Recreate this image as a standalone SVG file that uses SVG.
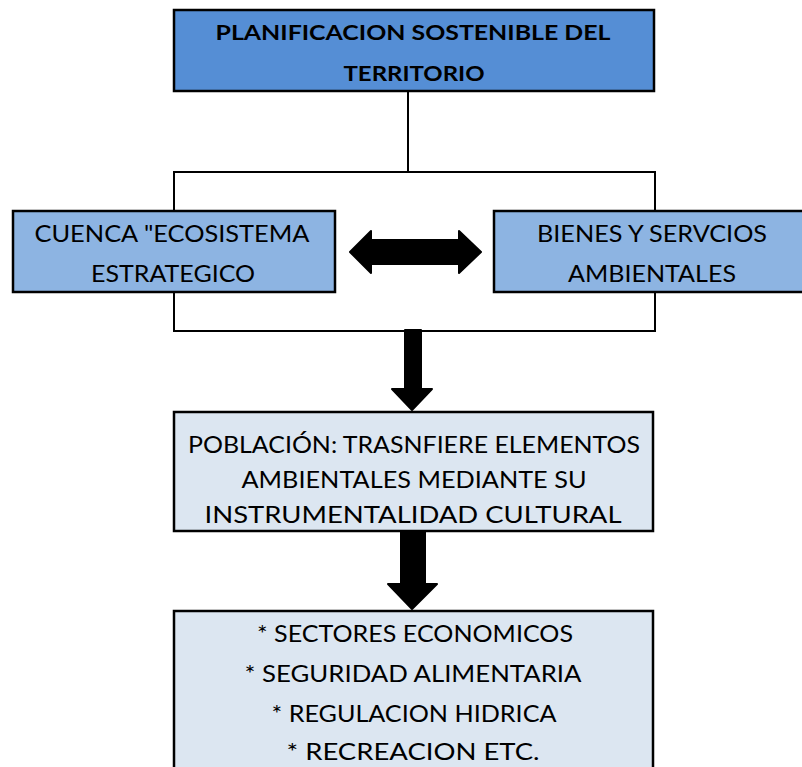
<svg xmlns="http://www.w3.org/2000/svg" width="802" height="767" viewBox="0 0 802 767">
<style>
.box{stroke:#000;stroke-width:2.5}
.top{fill:#558ED5}
.mid{fill:#8DB4E2}
.low{fill:#DCE6F1}
text{font-family:Lato,"Open Sans","Liberation Sans",sans-serif;fill:#000;text-anchor:middle}
.b{font-weight:bold;font-size:20px}
.n{font-size:23px}
.line{fill:none;stroke:#000;stroke-width:2}
.arr{fill:#000;stroke:#000;stroke-width:2;stroke-linejoin:round}
</style>
<rect width="802" height="767" fill="#fff"/>
<g id="connectors">
<line class="line" x1="408" y1="91" x2="408" y2="172"/>
<rect class="line" x="174" y="172" width="481" height="159"/>
<path class="arr" d="M350,252 L371,231 L371,240 L459,240 L459,231 L481,252 L459,273 L459,264 L371,264 L371,273 Z"/>
<path class="arr" d="M405,330 L421,330 L421,389 L432,389 L412,410 L392,389 L405,389 Z"/>
<path class="arr" d="M401,532 L425,532 L425,584 L437,584 L412,609 L388,584 L401,584 Z"/>
</g>
<g id="n-planificacion">
<rect class="box top" x="174" y="10" width="480" height="81"/>
<text class="b" x="413" y="40" textLength="395" lengthAdjust="spacingAndGlyphs">PLANIFICACION SOSTENIBLE DEL</text>
<text class="b" x="414" y="81" textLength="141" lengthAdjust="spacingAndGlyphs">TERRITORIO</text>
</g>
<g id="n-cuenca">
<rect class="box mid" x="13" y="211" width="322" height="81"/>
<text class="n" x="172" y="242" textLength="275" lengthAdjust="spacingAndGlyphs">CUENCA "ECOSISTEMA</text>
<text class="n" x="173" y="282" textLength="164" lengthAdjust="spacingAndGlyphs">ESTRATEGICO</text>
</g>
<g id="n-bienes">
<rect class="box mid" x="494" y="211" width="312" height="81"/>
<text class="n" x="652" y="242" textLength="230" lengthAdjust="spacingAndGlyphs">BIENES Y SERVCIOS</text>
<text class="n" x="652" y="282" textLength="168" lengthAdjust="spacingAndGlyphs">AMBIENTALES</text>
</g>
<g id="n-poblacion">
<rect class="box low" x="174" y="412" width="479" height="119"/>
<text class="n" x="414" y="453" textLength="452" lengthAdjust="spacingAndGlyphs">POBLACIÓN: TRASNFIERE ELEMENTOS</text>
<text class="n" x="414" y="488" textLength="345" lengthAdjust="spacingAndGlyphs">AMBIENTALES MEDIANTE SU</text>
<text class="n" x="413" y="523" textLength="417" lengthAdjust="spacingAndGlyphs">INSTRUMENTALIDAD CULTURAL</text>
</g>
<g id="n-sectores">
<rect class="box low" x="174" y="611" width="479" height="170"/>
<text class="n" x="415" y="642" textLength="316" lengthAdjust="spacingAndGlyphs">* SECTORES ECONOMICOS</text>
<text class="n" x="413" y="682" textLength="337" lengthAdjust="spacingAndGlyphs">* SEGURIDAD ALIMENTARIA</text>
<text class="n" x="414" y="722" textLength="285" lengthAdjust="spacingAndGlyphs">* REGULACION HIDRICA</text>
<text class="n" x="413" y="760" textLength="253" lengthAdjust="spacingAndGlyphs">* RECREACION ETC.</text>
</g>
</svg>
